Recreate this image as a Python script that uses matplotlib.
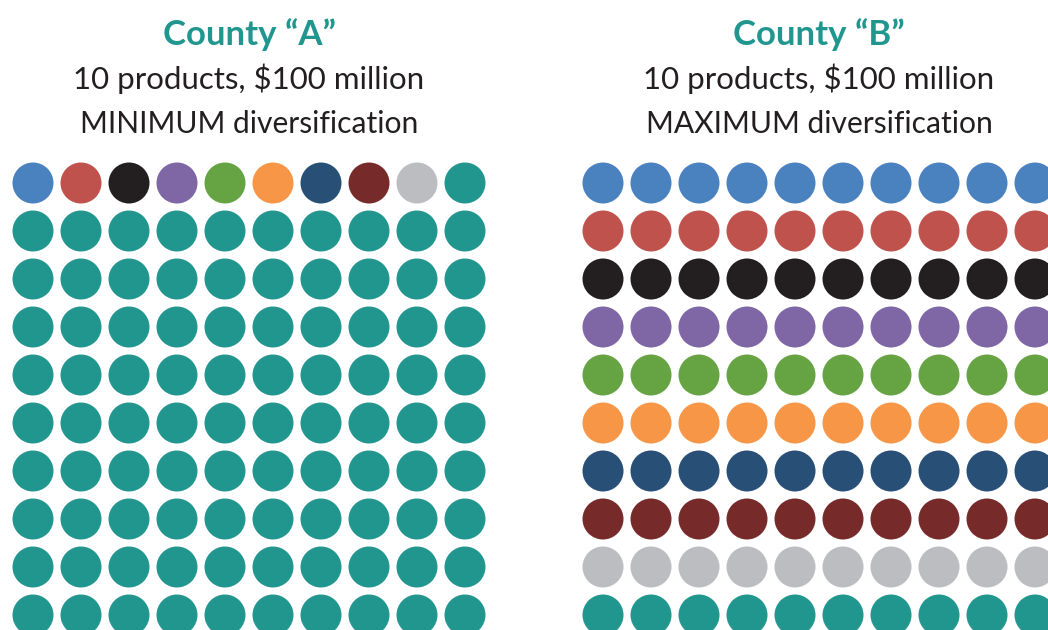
import numpy as np
import matplotlib
matplotlib.use("Agg")
import matplotlib.pyplot as plt

# product colours (row order of county B)
product_colors = ["#4a82c0", "#c0524e", "#231f20", "#7f66a4", "#66a342",
                  "#f79647", "#284f76", "#772a2a", "#bcbdc0", "#21968f"]

# dots per product (each dot = $1 million)
county_a_counts = [1, 1, 1, 1, 1, 1, 1, 1, 1, 91]
county_b_counts = [10, 10, 10, 10, 10, 10, 10, 10, 10, 10]

titles = ["County \u201cA\u201d", "County \u201cB\u201d"]
line2 = ["10 products, $100 million", "10 products, $100 million"]
line3 = ["MINIMUM diversification", "MAXIMUM diversification"]

W, H = 1048, 630
fig = plt.figure(figsize=(W / 100, H / 100), dpi=100)
plt.rcParams['font.family'] = ['Lato', 'DejaVu Sans']

ncol = 10
step = 48
r_px = 20.5
s = (2 * r_px * 0.72) ** 2

panels = [(county_a_counts, 33), (county_b_counts, 603)]
for k, (counts, x0) in enumerate(panels):
    colors = []
    for c, n in zip(product_colors, counts):
        colors += [c] * n
    idx = np.arange(len(colors))
    cols = idx % ncol
    rows = idx // ncol
    left = x0 - step / 2
    top = 183 - step / 2
    ax = fig.add_axes([left / W, 1 - (top + step * 10) / H, step * 10 / W, step * 10 / H])
    ax.scatter(cols, rows, s=s, c=colors, linewidths=0)
    ax.set_xlim(-0.5, 9.5)
    ax.set_ylim(9.5, -0.5)
    ax.axis("off")

    cx = (x0 + x0 + step * 9) / 2 / W
    fig.text(cx, 1 - 45 / H, titles[k], ha="center", va="baseline",
             fontsize=25, fontweight="bold", color="#21968f")
    fig.text(cx, 1 - 89 / H, line2[k], ha="center", va="baseline",
             fontsize=22.5, color="#231f20")
    fig.text(cx, 1 - 133 / H, line3[k], ha="center", va="baseline",
             fontsize=21.6, color="#231f20")

fig.savefig("out.png", dpi=100)
